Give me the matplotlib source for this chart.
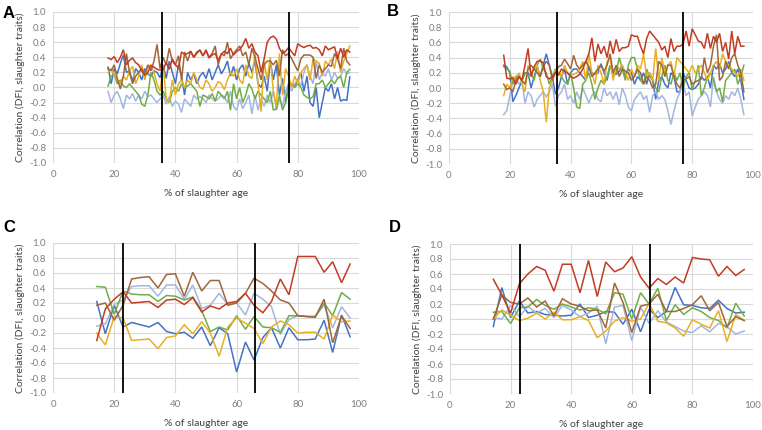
import matplotlib
matplotlib.use("Agg")
import matplotlib.pyplot as plt

plt.rcParams['font.family'] = ['Lato', 'DejaVu Sans']

# ---------------- data ----------------
x_ab = list(range(18, 98))  # % of slaughter age, panels A and B
x_cd = [14.3, 17.1, 20.0, 22.9, 25.7, 28.6, 31.4, 34.3, 37.1, 40.0,
        42.9, 45.7, 48.6, 51.4, 54.3, 57.1, 60.0, 62.9, 65.7, 68.6,
        71.4, 74.3, 77.1, 80.0, 82.9, 85.7, 88.6, 91.4, 94.3, 97.1]

vlines_ab = [35.5, 77.0]
vlines_cd = [23.0, 66.0]

# Panel A
a_blue = [0.27, 0.05, 0.25, 0.18, 0.32, 0.43, 0.20, 0.22, 0.08, 0.25,
          0.20, 0.10, 0.25, 0.18, 0.15, 0.22, 0.20, 0.13, 0.30, 0.12,
          0.35, 0.20, 0.05, 0.30, 0.15, -0.10, 0.20, 0.10, 0.18, 0.05,
          0.15, 0.20, 0.12, 0.25, 0.10, 0.20, 0.30, 0.18, 0.25, 0.35,
          0.15, 0.28, 0.10, 0.25, 0.30, 0.15, 0.32, 0.20, 0.35, 0.05,
          0.00, 0.15, -0.05, 0.35, 0.10, 0.30, -0.10, 0.12, -0.20, 0.00,
          0.05, 0.02, 0.10, 0.20, -0.05, 0.15, -0.20, -0.25, 0.00, -0.40,
          -0.20, 0.00, -0.05, 0.05, -0.15, 0.00, -0.18, -0.16, -0.17, 0.14]
a_red = [0.39, 0.37, 0.41, 0.33, 0.40, 0.50, 0.30, 0.36, 0.39, 0.33,
         0.30, 0.22, 0.16, 0.20, 0.29, 0.27, 0.24, 0.23, 0.24, 0.33,
         0.24, 0.38, 0.30, 0.26, 0.47, 0.44, 0.45, 0.48, 0.40, 0.47,
         0.49, 0.42, 0.50, 0.39, 0.43, 0.45, 0.36, 0.44, 0.48, 0.45,
         0.52, 0.43, 0.48, 0.50, 0.56, 0.65, 0.52, 0.58, 0.47, 0.42,
         0.20, 0.38, 0.60, 0.66, 0.68, 0.64, 0.52, 0.45, 0.48, 0.53,
         0.47, 0.42, 0.58, 0.55, 0.53, 0.55, 0.56, 0.52, 0.53, 0.50,
         0.42, 0.55, 0.50, 0.52, 0.54, 0.38, 0.52, 0.40, 0.50, 0.47]
a_yellow = [0.20, 0.25, 0.18, 0.10, 0.05, 0.15, 0.10, 0.22, 0.28, 0.05,
            0.15, 0.30, 0.10, 0.28, 0.30, 0.20, 0.05, -0.05, 0.30, -0.15,
            -0.20, 0.10, -0.10, 0.05, 0.10, 0.00, 0.10, 0.05, 0.20, 0.10,
            0.00, -0.02, 0.10, 0.05, -0.05, 0.00, 0.08, 0.05, -0.03, 0.10,
            0.20, 0.15, 0.25, 0.10, 0.05, 0.30, 0.15, 0.12, 0.45, 0.05,
            -0.32, 0.35, 0.10, 0.40, -0.05, -0.25, 0.45, -0.10, 0.25, 0.15,
            0.00, 0.15, 0.05, 0.20, 0.25, 0.30, 0.10, 0.38, 0.35, 0.32,
            0.15, 0.35, 0.30, 0.38, 0.25, 0.48, 0.20, 0.35, 0.45, 0.55]
a_green = [0.02, 0.15, 0.18, 0.05, 0.10, 0.02, 0.00, 0.05, 0.00, -0.05,
           -0.10, -0.22, -0.25, -0.10, 0.20, 0.10, -0.05, -0.10, -0.05, -0.15,
           -0.20, -0.05, 0.00, -0.05, 0.05, 0.00, 0.02, 0.05, 0.00, -0.05,
           -0.25, -0.10, -0.12, -0.15, -0.08, -0.18, -0.05, -0.10, -0.15, -0.05,
           -0.30, 0.05, -0.15, 0.00, -0.20, -0.10, 0.05, -0.02, -0.15, -0.05,
           -0.10, -0.15, -0.20, -0.05, -0.30, -0.28, -0.10, -0.30, -0.20, 0.05,
           0.05, 0.00, 0.05, 0.00, -0.10, -0.13, -0.15, -0.12, 0.05, 0.05,
           0.10, 0.00, 0.05, 0.10, 0.05, 0.12, 0.15, 0.00, 0.20, 0.24]
a_lightblue = [-0.05, -0.20, -0.10, -0.05, -0.15, -0.28, -0.10, -0.15, -0.08, -0.18,
               -0.10, -0.15, -0.05, -0.12, -0.10, -0.15, -0.20, -0.15, -0.10, -0.22,
               -0.12, -0.25, -0.18, -0.22, -0.33, -0.15, -0.20, -0.25, -0.10, -0.15,
               -0.12, -0.15, -0.20, -0.10, -0.15, -0.18, -0.15, -0.10, -0.12, -0.20,
               -0.05, -0.25, -0.30, -0.15, -0.28, -0.20, -0.10, -0.35, -0.10, -0.30,
               -0.15, -0.25, -0.10, -0.20, -0.05, -0.30, -0.15, -0.25, -0.05, 0.05,
               -0.05, 0.05, 0.10, 0.02, 0.20, 0.30, 0.15, 0.05, 0.35, 0.10,
               0.20, 0.15, 0.25, 0.10, 0.20, 0.12, 0.15, 0.25, 0.18, 0.20]
a_brown = [0.25, 0.22, 0.30, 0.12, -0.02, 0.15, 0.45, 0.20, 0.05, 0.15,
           0.20, 0.25, 0.18, 0.30, 0.22, 0.35, 0.57, 0.25, 0.40, 0.30,
           0.52, 0.35, 0.30, 0.42, 0.10, 0.47, 0.35, 0.48, 0.40, 0.45,
           0.50, 0.42, 0.48, 0.40, 0.45, 0.55, 0.30, 0.45, 0.42, 0.60,
           0.38, 0.45, 0.50, 0.55, 0.42, 0.47, 0.30, 0.52, 0.40, 0.25,
           0.10, 0.30, 0.35, 0.35, 0.30, 0.36, 0.15, 0.50, 0.42, 0.45,
           0.38, 0.30, 0.22, 0.38, 0.43, 0.43, 0.43, 0.40, 0.12, 0.30,
           0.20, 0.25, 0.30, 0.28, 0.45, 0.38, 0.25, 0.52, 0.35, 0.30]

# Panel B
b_blue = [0.30, 0.28, 0.20, -0.18, -0.10, 0.00, 0.10, 0.20, 0.20, 0.00,
          0.15, 0.28, 0.15, 0.30, 0.45, 0.30, 0.15, -0.08, 0.00, 0.15,
          0.25, 0.05, 0.20, 0.25, 0.25, 0.20, 0.15, 0.10, 0.28, 0.20,
          0.18, 0.20, 0.32, 0.20, 0.10, 0.30, 0.20, 0.18, 0.22, 0.30,
          0.15, 0.25, 0.20, 0.05, 0.15, 0.10, 0.20, 0.05, 0.20, 0.10,
          -0.15, 0.10, 0.15, 0.05, 0.00, 0.20, 0.15, -0.05, -0.05, 0.20,
          0.10, 0.00, -0.02, 0.00, 0.05, 0.15, 0.10, 0.15, 0.00, 0.30,
          0.25, 0.32, 0.20, 0.25, 0.35, 0.20, 0.15, 0.25, 0.10, -0.15]
b_red = [0.43, 0.13, 0.12, 0.13, 0.05, 0.15, 0.10, 0.30, 0.52, 0.15,
         0.28, 0.35, 0.36, 0.33, 0.15, 0.12, 0.15, 0.20, 0.17, 0.25,
         0.22, 0.20, 0.15, 0.13, 0.15, 0.18, 0.25, 0.35, 0.45, 0.66,
         0.35, 0.58, 0.45, 0.55, 0.40, 0.62, 0.45, 0.64, 0.48, 0.53,
         0.53, 0.55, 0.70, 0.68, 0.68, 0.55, 0.45, 0.65, 0.75, 0.70,
         0.65, 0.60, 0.50, 0.55, 0.40, 0.65, 0.48, 0.55, 0.55, 0.58,
         0.75, 0.55, 0.78, 0.70, 0.62, 0.60, 0.52, 0.72, 0.52, 0.68,
         0.60, 0.72, 0.48, 0.60, 0.38, 0.75, 0.45, 0.68, 0.55, 0.55]
b_yellow = [-0.10, 0.05, 0.00, 0.15, 0.10, 0.20, 0.05, -0.05, 0.30, 0.20,
            0.25, 0.30, 0.10, -0.05, -0.45, 0.00, 0.10, 0.25, 0.20, 0.15,
            0.30, 0.20, 0.15, 0.18, 0.20, 0.25, 0.35, 0.10, 0.45, 0.20,
            0.05, 0.30, 0.20, 0.05, 0.35, 0.40, 0.10, 0.30, 0.25, 0.30,
            0.20, 0.10, 0.25, 0.15, 0.30, 0.25, 0.45, 0.15, 0.20, 0.10,
            0.52, 0.10, 0.40, 0.20, 0.30, 0.35, 0.15, 0.40, 0.35, 0.30,
            0.25, 0.20, 0.30, 0.20, 0.25, 0.30, 0.20, 0.10, 0.20, 0.30,
            0.35, 0.25, 0.45, 0.35, 0.30, 0.25, 0.20, 0.15, 0.25, 0.10]
b_green = [0.28, 0.25, 0.22, 0.05, 0.15, 0.18, 0.10, 0.20, 0.15, 0.20,
           0.10, 0.30, 0.38, 0.25, 0.20, 0.05, 0.15, 0.25, 0.20, 0.15,
           0.08, 0.05, 0.20, 0.00, -0.25, -0.27, 0.05, 0.10, 0.20, 0.05,
           -0.15, 0.00, 0.10, 0.05, 0.15, 0.30, 0.15, 0.20, 0.40, 0.25,
           0.10, 0.30, 0.40, 0.40, 0.25, 0.10, 0.05, 0.25, 0.15, 0.10,
           0.00, -0.05, 0.15, 0.30, 0.10, 0.05, 0.20, 0.10, 0.20, 0.00,
           0.15, 0.20, -0.02, 0.10, 0.30, -0.10, 0.00, 0.15, 0.20, 0.10,
           -0.05, 0.00, -0.18, 0.10, 0.15, 0.20, 0.25, 0.05, 0.15, 0.30]
b_lightblue = [-0.35, -0.30, -0.10, 0.10, 0.15, 0.05, 0.10, -0.20, -0.05, -0.10,
               -0.25, -0.15, -0.10, -0.05, -0.12, -0.05, 0.05, -0.24, -0.10, -0.05,
               0.05, -0.15, -0.10, -0.20, -0.05, -0.15, 0.00, -0.10, -0.20, -0.10,
               -0.05, -0.15, -0.18, 0.00, -0.10, -0.05, -0.15, -0.05, -0.22, 0.00,
               -0.10, -0.25, -0.30, -0.15, -0.10, -0.05, -0.15, -0.10, -0.32, -0.10,
               -0.05, -0.15, -0.10, -0.15, -0.30, -0.48, -0.30, -0.15, -0.05, 0.05,
               -0.10, -0.05, -0.37, -0.25, -0.15, -0.10, -0.05, -0.10, -0.25, 0.15,
               -0.05, -0.15, -0.20, -0.10, -0.15, -0.05, -0.10, 0.00, -0.15, -0.35]
b_brown = [0.05, -0.02, 0.00, -0.05, 0.10, 0.15, 0.10, 0.05, 0.25, 0.30,
           0.25, 0.20, 0.15, 0.28, 0.35, 0.30, 0.10, 0.20, 0.28, 0.30,
           0.38, 0.32, 0.25, 0.43, 0.30, 0.25, 0.30, 0.35, 0.28, 0.15,
           0.20, 0.25, 0.30, 0.22, 0.30, 0.45, 0.20, 0.30, 0.15, 0.25,
           0.22, 0.20, 0.10, 0.15, 0.25, 0.20, 0.05, 0.15, 0.10, 0.00,
           0.05, 0.35, 0.30, 0.15, 0.30, 0.30, 0.15, 0.05, 0.00, 0.10,
           0.12, 0.15, 0.05, 0.08, 0.10, 0.12, 0.40, 0.20, 0.30, 0.55,
           0.70, 0.10, 0.15, 0.35, 0.25, 0.40, 0.45, 0.30, 0.20, -0.05]

# Panel C
c_blue = [0.22, -0.21, 0.17, -0.12, -0.06, -0.09, -0.12, -0.06, -0.18, -0.21,
          -0.19, -0.27, -0.12, -0.37, -0.13, -0.21, -0.72, -0.32, -0.56, -0.26,
          -0.13, -0.40, -0.13, -0.29, -0.29, -0.28, -0.03, -0.46, 0.04, -0.25]
c_red = [-0.30, 0.12, 0.25, 0.35, 0.20, 0.21, 0.22, 0.14, 0.24, 0.25,
         0.18, 0.27, 0.08, 0.16, 0.12, 0.20, 0.22, 0.33, 0.17, 0.07,
         0.22, 0.52, 0.31, 0.82, 0.82, 0.82, 0.61, 0.75, 0.47, 0.72]
c_yellow = [-0.20, -0.36, 0.02, 0.00, -0.30, -0.29, -0.28, -0.41, -0.26, -0.24,
            -0.09, -0.21, -0.05, -0.20, -0.51, -0.12, 0.00, -0.07, -0.14, -0.34,
            -0.12, -0.04, -0.09, -0.20, -0.19, -0.19, -0.28, 0.04, -0.05, -0.04]
c_green = [0.42, 0.41, 0.05, 0.36, 0.32, 0.31, 0.31, 0.22, 0.30, 0.29,
           0.24, 0.28, 0.10, -0.18, -0.12, -0.16, 0.03, -0.15, 0.02, -0.12,
           -0.13, -0.19, 0.03, 0.03, 0.02, 0.02, 0.20, 0.03, 0.34, 0.25]
c_lightblue = [-0.11, -0.08, 0.18, 0.24, 0.42, 0.43, 0.43, 0.29, 0.44, 0.44,
               0.25, 0.44, 0.13, 0.17, 0.33, 0.18, 0.20, 0.04, 0.33, 0.25,
               0.15, -0.22, -0.02, 0.03, 0.02, 0.02, 0.17, -0.13, 0.15, 0.00]
c_brown = [0.17, 0.20, -0.03, 0.17, 0.52, 0.54, 0.55, 0.40, 0.58, 0.59,
           0.29, 0.61, 0.36, 0.50, 0.50, 0.17, 0.20, 0.33, 0.53, 0.46,
           0.36, 0.24, 0.20, 0.03, 0.02, 0.01, 0.25, -0.33, 0.03, -0.14]

# Panel D
d_blue = [-0.10, 0.42, 0.02, 0.24, 0.08, 0.10, 0.06, 0.05, 0.04, 0.05,
          0.20, 0.02, 0.05, 0.10, 0.09, -0.07, 0.13, -0.17, 0.13, 0.02,
          0.10, 0.42, 0.19, 0.18, 0.15, 0.14, 0.25, 0.14, 0.08, 0.09]
d_red = [0.53, 0.32, 0.08, 0.47, 0.60, 0.70, 0.65, 0.37, 0.73, 0.73,
         0.35, 0.78, 0.30, 0.76, 0.63, 0.68, 0.83, 0.56, 0.41, 0.54,
         0.46, 0.56, 0.48, 0.82, 0.80, 0.79, 0.57, 0.70, 0.58, 0.66]
d_yellow = [0.00, 0.12, 0.05, -0.02, 0.01, 0.08, 0.00, 0.09, -0.01, -0.01,
            0.03, -0.02, -0.25, -0.16, -0.03, 0.02, -0.03, 0.00, 0.21, -0.03,
            -0.05, -0.12, -0.23, -0.01, -0.07, -0.12, 0.11, -0.30, 0.06, -0.02]
d_green = [0.09, 0.10, -0.06, 0.15, 0.16, 0.26, 0.18, 0.13, 0.20, 0.16,
           0.12, 0.15, 0.13, 0.07, 0.35, 0.33, 0.00, 0.35, 0.20, 0.41,
           -0.02, 0.19, 0.06, 0.15, 0.10, 0.02, -0.02, -0.12, 0.21, 0.04]
d_lightblue = [0.02, 0.00, 0.18, 0.03, 0.17, 0.08, 0.14, 0.02, 0.18, 0.12,
               0.03, 0.08, 0.17, -0.33, 0.16, 0.18, -0.29, 0.16, -0.06, 0.11,
               -0.04, -0.10, -0.16, -0.18, -0.09, -0.17, -0.06, -0.10, -0.20, -0.16]
d_brown = [0.00, 0.32, 0.22, 0.20, 0.28, 0.16, 0.24, 0.04, 0.27, 0.20,
           0.17, 0.11, 0.12, -0.12, 0.48, 0.22, -0.18, 0.17, 0.20, 0.33,
           0.10, 0.10, 0.14, 0.19, 0.31, 0.11, 0.22, -0.10, 0.03, -0.02]

panel_letters = ["A", "B", "C", "D"]
x_ticks = [0, 20, 40, 60, 80, 100]
y_ticks = [-1.0, -0.8, -0.6, -0.4, -0.2, 0.0, 0.2, 0.4, 0.6, 0.8, 1.0]
xlabel = "% of slaughter age"
ylabel = "Correlation (DFI, slaughter traits)"

colors = {
    "blue": "#4472C4",
    "lightblue": "#A2B6E0",
    "green": "#70AD47",
    "yellow": "#E8B020",
    "brown": "#A0663A",
    "red": "#C23B22",
}

panels = [
    (x_ab, {"blue": a_blue, "lightblue": a_lightblue, "green": a_green,
            "yellow": a_yellow, "brown": a_brown, "red": a_red}, vlines_ab),
    (x_ab, {"blue": b_blue, "lightblue": b_lightblue, "green": b_green,
            "yellow": b_yellow, "brown": b_brown, "red": b_red}, vlines_ab),
    (x_cd, {"blue": c_blue, "lightblue": c_lightblue, "green": c_green,
            "yellow": c_yellow, "brown": c_brown, "red": c_red}, vlines_cd),
    (x_cd, {"blue": d_blue, "lightblue": d_lightblue, "green": d_green,
            "yellow": d_yellow, "brown": d_brown, "red": d_red}, vlines_cd),
]

W, H = 762, 430
boxes = [(53, 12, 359, 163), (449, 12, 753, 164),
         (53, 243, 359, 393), (450, 244, 753, 394)]
letter_pos = [(3, 14), (387, 12), (3, 227), (389, 227)]

fig = plt.figure(figsize=(W / 100, H / 100), dpi=100)
fig.patch.set_facecolor("white")

for i, ((xs, series, vls), box) in enumerate(zip(panels, boxes)):
    l, t, r, b = box
    ax = fig.add_axes([l / W, 1 - b / H, (r - l) / W, (b - t) / H])
    ax.set_xlim(0, 100)
    ax.set_ylim(-1.0, 1.0)
    ax.set_xticks(x_ticks)
    ax.set_yticks(y_ticks)
    ax.set_yticklabels([f"{v:.1f}" for v in y_ticks])
    ax.grid(True, color="#D9D9D9", linewidth=0.8)
    ax.set_axisbelow(True)
    for s in ax.spines.values():
        s.set_visible(False)
    ax.tick_params(length=0, labelsize=7, labelcolor="#7F7F7F", pad=5)
    for name, ys in series.items():
        ax.plot(xs, ys, color=colors[name], linewidth=1.1, solid_joinstyle="miter")
    for v in vls:
        ax.axvline(v, color="black", linewidth=1.3, zorder=5)
    ax.set_xlabel(xlabel, fontsize=7.5, color="#404040", labelpad=7)
    ax.set_ylabel(ylabel, fontsize=7.5, color="#404040", labelpad=3)
    lx, ly = letter_pos[i]
    fig.text(lx / W, 1 - ly / H, panel_letters[i], fontsize=12, fontweight="bold",
             family="Liberation Sans", va="center", ha="left")

fig.savefig("out.png", dpi=100)
